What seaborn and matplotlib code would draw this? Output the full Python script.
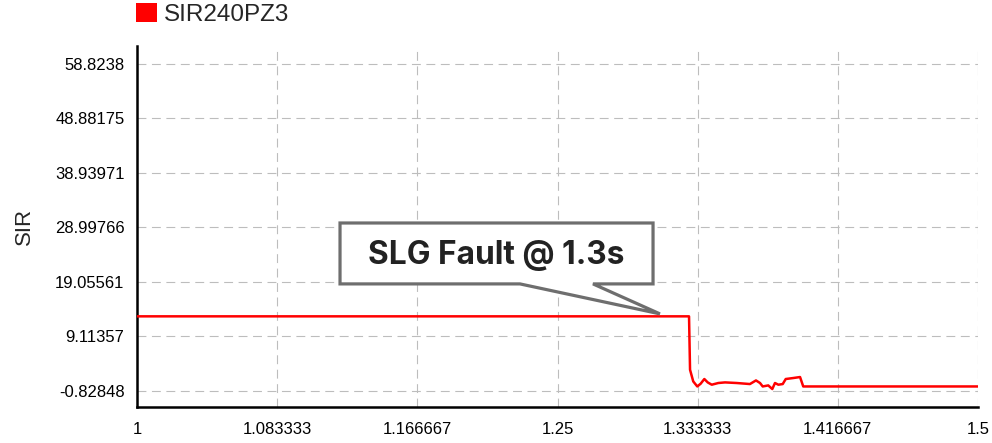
import numpy as np
import pandas as pd
import seaborn as sns
import matplotlib.pyplot as plt
from matplotlib.patches import Patch, Polygon

# signal trace (time in s, SIR value)
time = [1.0, 1.2990, 1.3282, 1.3288, 1.3307, 1.3331, 1.3351, 1.3373, 1.3393,
        1.3417, 1.3456, 1.3496, 1.3565, 1.3644, 1.3680, 1.3704, 1.3720, 1.3753,
        1.3777, 1.3793, 1.3813, 1.3839, 1.3857, 1.3902, 1.3942, 1.3961, 1.5]
sir = [12.75, 12.75, 12.75, 3.00, 0.87, -0.05, 0.45, 1.31, 0.69,
       0.27, 0.58, 0.69, 0.58, 0.39, 1.05, 0.58, -0.05, 0.14,
       -0.52, 0.58, 0.27, 0.39, 1.31, 1.49, 1.67, -0.05, -0.05]

series_name = 'SIR240PZ3'
ytick_values = [-0.82848, 9.11357, 19.05561, 28.99766, 38.93971, 48.88175, 58.8238]
ytick_labels = ['-0.82848', '9.11357', '19.05561', '28.99766', '38.93971', '48.88175', '58.8238']
xtick_values = [1.0, 1.083333, 1.166667, 1.25, 1.333333, 1.416667, 1.5]
xtick_labels = ['1', '1.083333', '1.166667', '1.25', '1.333333', '1.416667', '1.5']

# callout: box corners, tail base and tip (data coords)
callout_text = 'SLG Fault @ 1.3s'
box_x = [1.1207, 1.3068]
box_y = [18.67, 29.79]
tail_x = [1.2277, 1.2711]
tip = (1.3109, 13.2)

df = pd.DataFrame({'time': time, 'SIR': sir})

sns.set_style('white')
plt.rcParams['font.family'] = ['Liberation Sans', 'DejaVu Sans']

fig = plt.figure(figsize=(9.92, 4.43), dpi=100)
ax = fig.add_axes([137/992, 1-407/443, (978-137)/992, (407-46)/443])

sns.lineplot(data=df, x='time', y='SIR', color='#ff0000', linewidth=1.8, ax=ax, zorder=3)

ax.set_xlim(1.0, 1.5)
ax.set_ylim(-3.8, 62.1)
ax.set_xticks(xtick_values)
ax.set_xticklabels(xtick_labels)
ax.set_yticks(ytick_values)
ax.set_yticklabels(ytick_labels)

# two minor ticks between majors
step_x = xtick_values[1] - xtick_values[0]
step_y = ytick_values[1] - ytick_values[0]
minx = [v + k * step_x / 3 for v in xtick_values[:-1] for k in (1, 2)]
miny = [v + k * step_y / 3 for v in [ytick_values[0] - step_y] + ytick_values for k in (1, 2)]
miny = [m for m in miny if -3.8 <= m <= 62.1]
ax.set_xticks(minx, minor=True)
ax.set_yticks(miny, minor=True)

ax.tick_params(axis='both', which='major', length=7, width=1.8, direction='out',
               labelsize=12, colors='black', pad=2)
ax.tick_params(axis='both', which='minor', length=4.5, width=1.8, direction='out')
ax.tick_params(axis='x', which='major', pad=4)

ax.grid(True, which='major', color='#bdbdbd', linewidth=0.8, linestyle=(0, (8, 5)))
for side in ('top', 'right'):
    ax.spines[side].set_visible(False)
for side in ('left', 'bottom'):
    ax.spines[side].set_linewidth(1.8)
    ax.spines[side].set_color('black')

ax.set_xlabel('')
ax.set_ylabel('SIR', fontsize=16)
ax.yaxis.set_label_coords(-0.121, 0.5)

# speech-bubble callout
verts = [(box_x[0], box_y[1]), (box_x[1], box_y[1]), (box_x[1], box_y[0]),
         (tail_x[1], box_y[0]), tip, (tail_x[0], box_y[0]), (box_x[0], box_y[0])]
ax.add_patch(Polygon(verts, closed=True, facecolor='white', edgecolor='#6e6e6e',
                     linewidth=2.3, zorder=4, joinstyle='miter'))
ax.text(sum(box_x) / 2, sum(box_y) / 2 - 0.4, callout_text, ha='center', va='center',
        fontsize=22.8, fontweight='bold', color='#222222', family=['Inter', 'Lato', 'DejaVu Sans'],
        zorder=5)

# legend at top left
fig.legend(handles=[Patch(facecolor='#ff0000', edgecolor='none', label=series_name)],
           loc='upper left', bbox_to_anchor=(136/992, 1 - 3/443), frameon=False,
           handlelength=0.85, handleheight=0.85, handletextpad=0.3,
           borderpad=0, borderaxespad=0, prop={'family': ['Liberation Sans', 'DejaVu Sans'], 'size': 17.5})

fig.savefig('out.png', dpi=100)
